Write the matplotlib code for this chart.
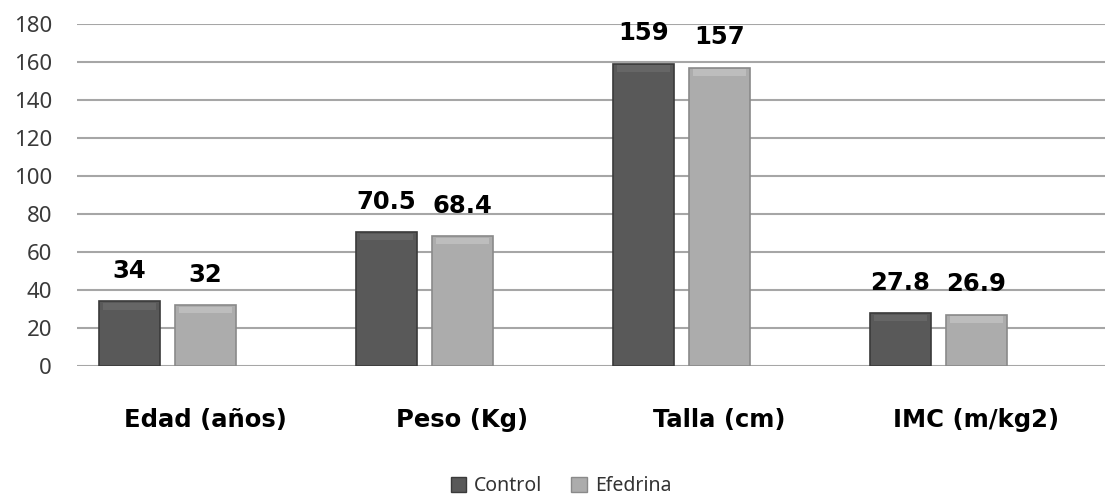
import matplotlib
matplotlib.use("Agg")
import matplotlib.pyplot as plt
import numpy as np
from matplotlib.patches import Patch

categories = ["Edad (años)", "Peso (Kg)", "Talla (cm)", "IMC (m/kg2)"]
control = [34, 70.5, 159, 27.8]
efedrina = [32, 68.4, 157, 26.9]
control_labels = ["34", "70.5", "159", "27.8"]
efedrina_labels = ["32", "68.4", "157", "26.9"]
yticks = [0, 20, 40, 60, 80, 100, 120, 140, 160, 180]

fig = plt.figure(figsize=(11.08, 4.99), dpi=100)
ax = fig.add_axes([77/1108, (499-366)/499, (1105-77)/1108, (366-24)/499])

x = np.arange(len(categories))
w = 0.237
off_c = -0.296
off_e = 0.0

bc = ax.bar(x + off_c, control, width=w, color="#595959", edgecolor="#3a3a3a", linewidth=1.2, zorder=3)
be = ax.bar(x + off_e, efedrina, width=w, color="#acacac", edgecolor="#8a8a8a", linewidth=1.2, zorder=3)

# subtle bevel highlight on top of bars
for bars, hl in ((bc, "#666666"), (be, "#bdbdbd")):
    for b in bars:
        ax.bar(b.get_x() + b.get_width()/2, 3.5, bottom=b.get_height() - 4.3, width=b.get_width()*0.86,
               color=hl, linewidth=0, zorder=4)

bold_font = dict(family="DejaVu Sans", fontweight="bold")
for xi, v, t in zip(x + off_c, control, control_labels):
    ax.text(xi, v + 16, t, ha="center", va="center", fontsize=17.5, color="black", zorder=5, **bold_font)
for xi, v, t in zip(x + off_e, efedrina, efedrina_labels):
    ax.text(xi, v + 16, t, ha="center", va="center", fontsize=17.5, color="black", zorder=5, **bold_font)

ax.set_xlim(-0.5, 3.5)
ax.set_ylim(0, 180)
ax.set_yticks(yticks)
ax.set_yticklabels([str(v) for v in yticks], fontsize=16, family="Noto Sans", color="#3a3a3a")
ax.set_xticks(x)
ax.set_xticklabels(categories, fontsize=17.5, **bold_font)
ax.tick_params(axis="y", length=0, pad=18)
ax.tick_params(axis="x", length=0, pad=30)
ax.yaxis.grid(True, color="#a6a6a6", linewidth=1.5, zorder=0)
ax.set_axisbelow(True)
for s in ax.spines.values():
    s.set_visible(False)

handles = [Patch(facecolor="#595959", edgecolor="#3a3a3a", label="Control"),
           Patch(facecolor="#acacac", edgecolor="#8a8a8a", label="Efedrina")]
fig.legend(handles=handles, loc="center", bbox_to_anchor=(561/1108, 1 - 486/499), ncol=2,
           frameon=False, prop={"family": "Noto Sans", "size": 14}, handlelength=0.8,
           handleheight=0.8, handletextpad=0.4, columnspacing=1.5, labelcolor="#333333")

fig.savefig("out.png", dpi=100, facecolor="white")
